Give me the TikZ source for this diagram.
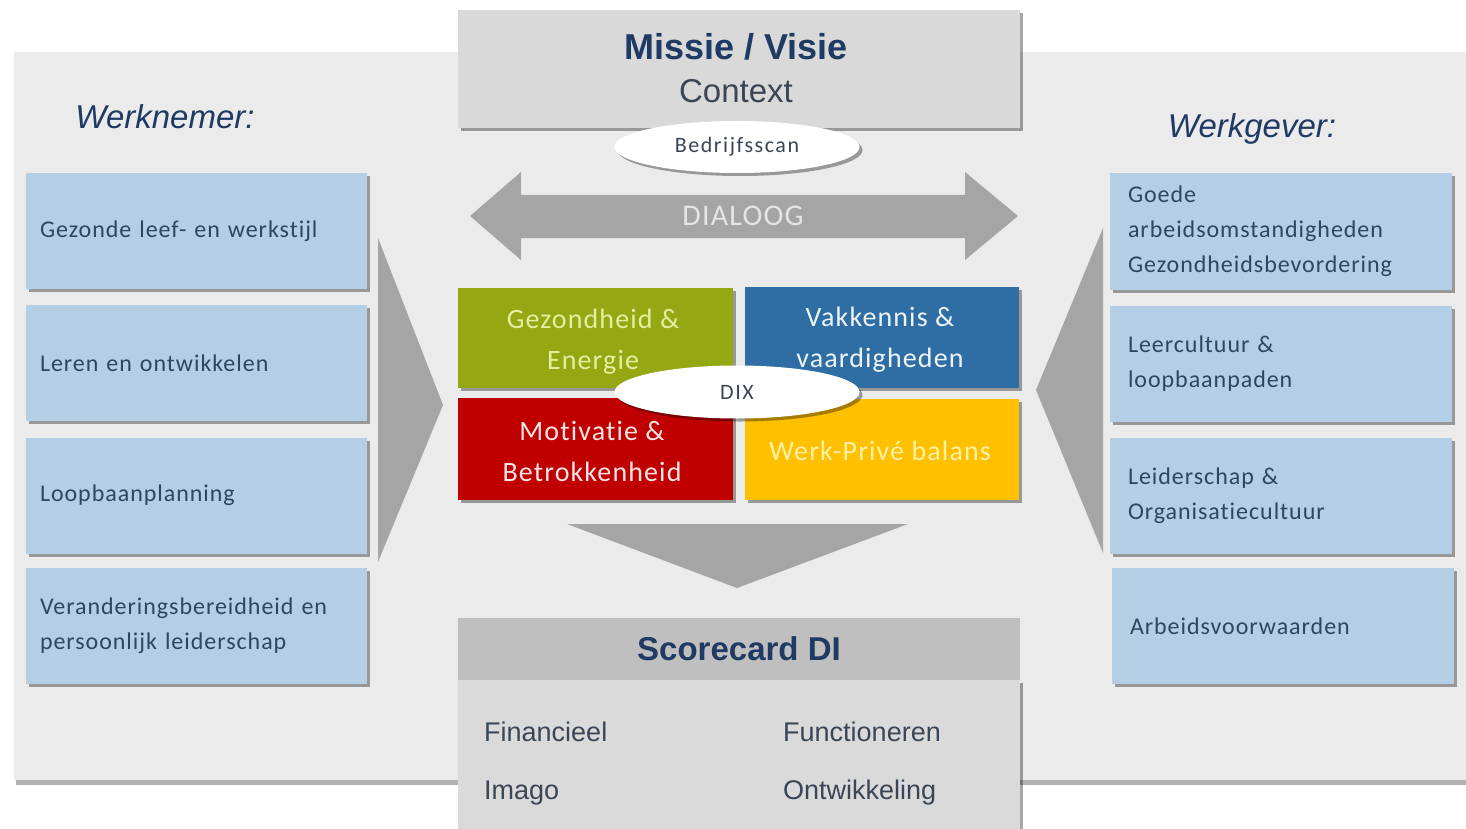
\documentclass[tikz,border=0pt]{standalone}
\usepackage{fontspec}
\setmainfont{Liberation Sans}
\newfontfamily\calfont[LetterSpace=4,Ligatures={NoCommon}]{Carlito}
\newfontfamily\calwide[LetterSpace=7,Ligatures={NoCommon}]{Carlito}
\usetikzlibrary{shadows,shapes.geometric}
\definecolor{panel}{HTML}{EBEBEB}
\definecolor{topgray}{HTML}{D9D9D9}
\definecolor{headgray}{HTML}{BFBFBF}
\definecolor{bodygray}{HTML}{DADADA}
\definecolor{lightblue}{HTML}{B4CEE5}
\definecolor{arrowgray}{HTML}{A5A5A5}
\definecolor{qgreen}{HTML}{94A814}
\definecolor{qblue}{HTML}{2F6EA5}
\definecolor{qred}{HTML}{C00000}
\definecolor{qyellow}{HTML}{FFC000}
\definecolor{titleblue}{HTML}{1F3A63}
\definecolor{boxtext}{HTML}{2E4760}
\definecolor{darktext}{HTML}{3A4656}
\definecolor{greentext}{HTML}{E4EEA0}
\definecolor{yellowtext}{HTML}{FFF0A8}
\begin{document}
\begin{tikzpicture}[x=1pt,y=-1pt,
  shad/.style={drop shadow={shadow xshift=3pt,shadow yshift=-3pt,fill=black,opacity=0.35}},
  sidebox/.style={shad,fill=lightblue,rectangle,inner xsep=14pt,inner ysep=0pt,
     minimum height=116pt,align=left,text=boxtext,
     font=\calfont\fontsize{24}{35}\selectfont},
  quad/.style={shad,rectangle,inner sep=0pt},
  quadtext/.style={inner sep=0pt,align=center,font=\calfont\fontsize{28}{41}\selectfont},
  oval/.style={shad,ellipse,fill=white,inner sep=0pt,minimum width=245pt,
     minimum height=52pt,text=darktext,font=\calwide\fontsize{22}{26}\selectfont},
  side/.style={font=\itshape\fontsize{33}{38}\selectfont,text=titleblue},
  score/.style={anchor=west,inner sep=0pt,text=darktext,font=\fontsize{27}{30}\selectfont}]
\useasboundingbox (0,0) rectangle (1466,829);
\fill[white] (0,0) rectangle (1466,829);
% panel
\fill[black!30] (16,56) rectangle (1466,785);
\fill[panel] (14,52) rectangle (1466,780);
% top box
\node[shad,fill=topgray,minimum width=562pt,minimum height=118pt,inner sep=0pt] (top) at (739,69) {};
\node[text=titleblue,font=\bfseries\fontsize{36}{40}\selectfont] (missie) at (736,47) {Missie / Visie};
\node[text=darktext,font=\fontsize{33}{38}\selectfont] (context) at (736,91) {Context};
% dialoog arrow
\fill[arrowgray] (470,216) -- (521,172) -- (521,195) -- (965,195) -- (965,172) -- (1018,216)
  -- (965,260) -- (965,238) -- (521,238) -- (521,260) -- cycle;
\node[text=white!90!black,font=\calfont\fontsize{30}{34}\selectfont] (dialoog) at (743,216) {DIALOOG};
% bedrijfsscan
\node[oval] (scan) at (737,147) {Bedrijfsscan};
% side titles
\node[side] (wn) at (165,117) {Werknemer:};
\node[side] (wg) at (1252,129) {Werkgever:};
% chevrons
\fill[arrowgray] (378,238) -- (443,405) -- (378,562) -- cycle;
\fill[arrowgray] (1103,228) -- (1036,390) -- (1103,553) -- cycle;
% left boxes
\node[sidebox,text width=313pt] (l1) at (196.5,231) {Gezonde leef- en werkstijl};
\node[sidebox,text width=313pt] (l2) at (196.5,363) {Leren en ontwikkelen};
\node[sidebox,text width=313pt] (l3) at (196.5,495.5) {Loopbaanplanning};
\node[sidebox,text width=313pt] (l4) at (196.5,626) {Veranderingsbereidheid en\\persoonlijk leiderschap};
% right boxes
\node[sidebox,text width=306pt,inner xsep=18pt] (r1) at (1281,231.5) {Goede\\arbeidsomstandigheden\\Gezondheidsbevordering};
\node[sidebox,text width=306pt,inner xsep=18pt] (r2) at (1281,364) {Leercultuur \&\\loopbaanpaden};
\node[sidebox,text width=306pt,inner xsep=18pt] (r3) at (1281,495.5) {Leiderschap \&\\Organisatiecultuur};
\node[sidebox,text width=306pt,inner xsep=18pt] (r4) at (1283,626) {Arbeidsvoorwaarden};
% quadrants
\node[quad,fill=qgreen,minimum width=275pt,minimum height=100pt] (q1) at (595.5,338) {};
\node[quad,fill=qblue,minimum width=274pt,minimum height=101pt] (q2) at (882,337.5) {};
\node[quad,fill=qred,minimum width=275pt,minimum height=102pt] (q3) at (595.5,449) {};
\node[quad,fill=qyellow,minimum width=274pt,minimum height=101pt] (q4) at (882,449.5) {};
\node[quadtext,text=greentext] (q1t) at (593,342) {Gezondheid \&\\Energie};
\node[quadtext,text=white!92!qblue] (q2t) at (880,340) {Vakkennis \&\\vaardigheden};
\node[quadtext,text=white!90!qred] (q3t) at (592,451) {Motivatie \&\\Betrokkenheid};
\node[quadtext,text=yellowtext] (q4t) at (880,451) {Werk-Privé balans};
\node[oval,minimum height=53pt] (dix) at (737,392) {DIX};
% down arrow
\fill[arrowgray] (567,524) -- (908,524) -- (737,588) -- cycle;
% scorecard
\node[shad,fill=bodygray,minimum width=562pt,minimum height=149pt,inner sep=0pt] (body) at (739,754.5) {};
\node[fill=headgray,minimum width=562pt,minimum height=62pt,inner sep=0pt,text=titleblue,
  font=\bfseries\fontsize{33}{38}\selectfont] (head) at (739,649) {Scorecard DI};
\node[score] (fin) at (484,732) {Financieel};
\node[score] (img) at (484,793) {Imago};
\node[score] (fun) at (783,732) {Functioneren};
\node[score] (ont) at (783,793) {Ontwikkeling};
\end{tikzpicture}
\end{document}
